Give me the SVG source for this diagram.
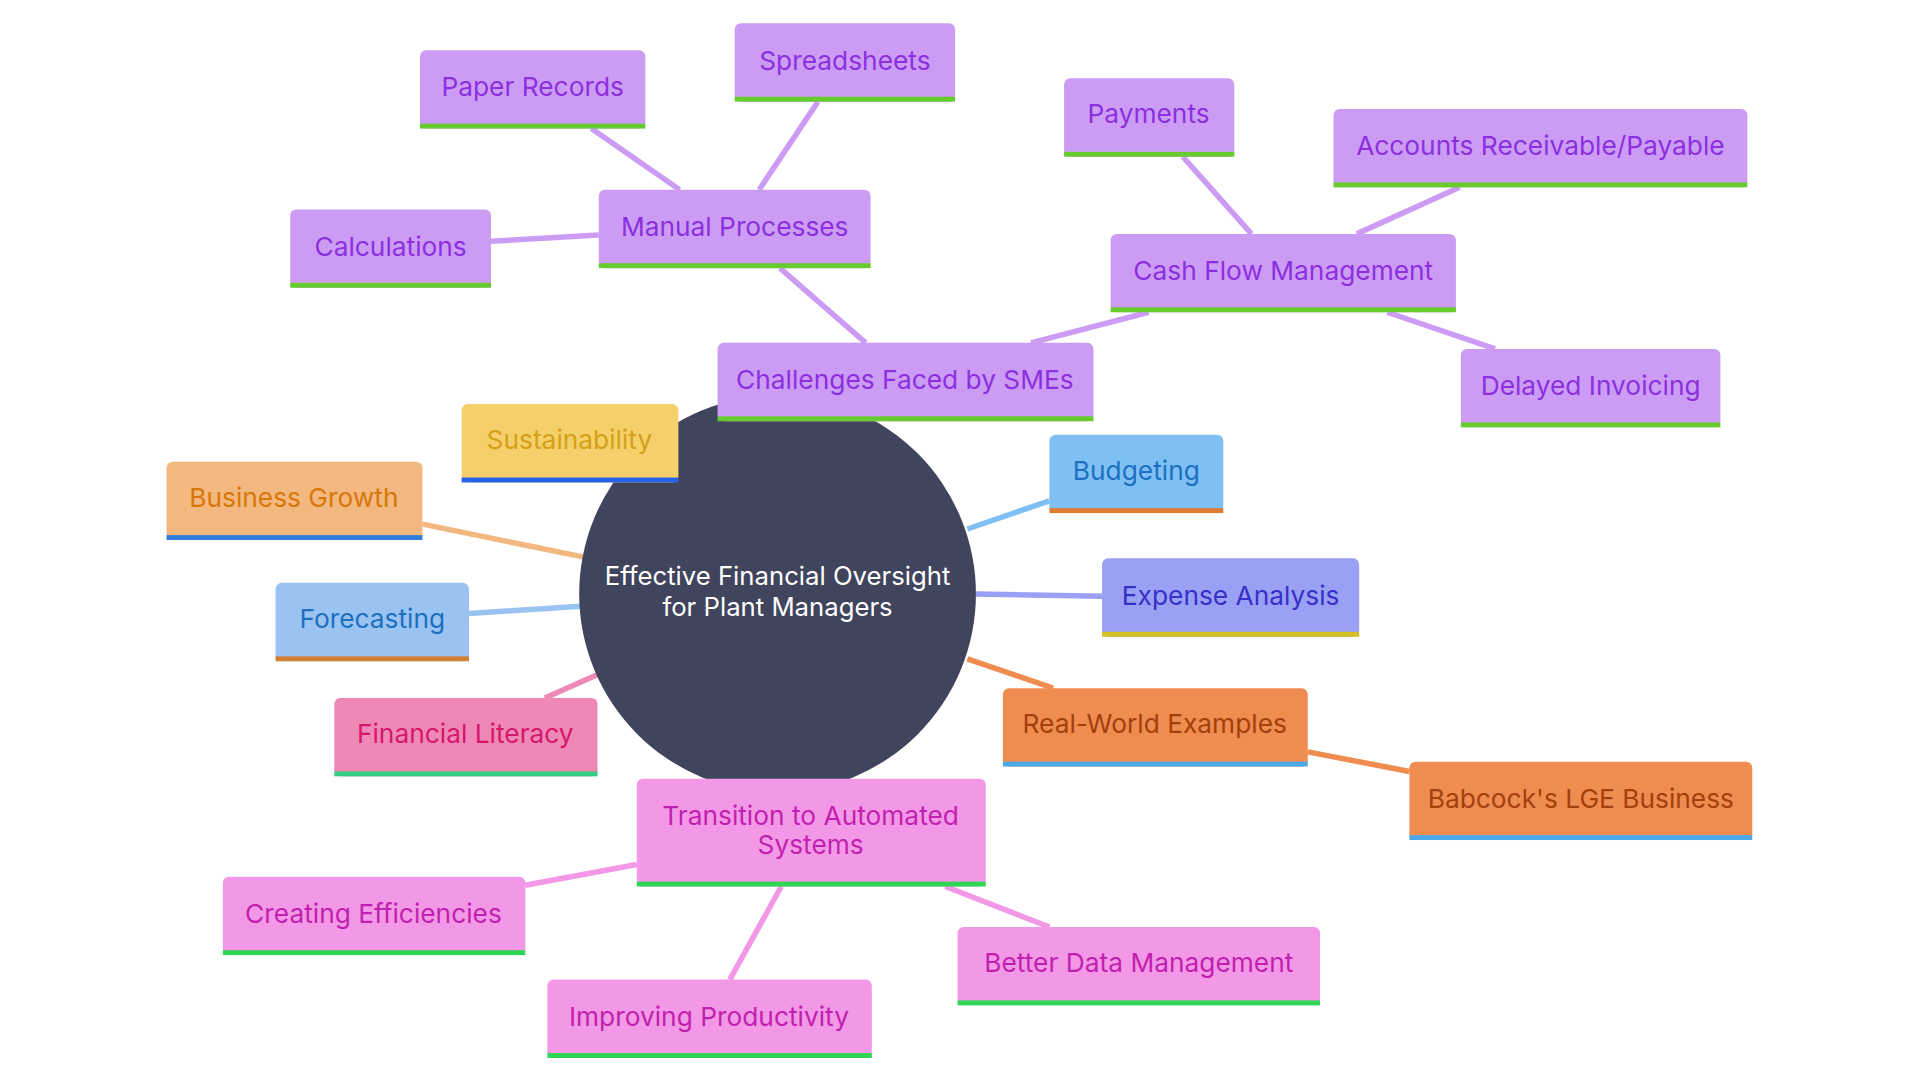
<svg xmlns="http://www.w3.org/2000/svg" width="1920" height="1080" viewBox="0 0 1920 1080">
<style>
text{font-family:Inter,"Open Sans","Liberation Sans",sans-serif;font-size:21.5px;text-anchor:middle;dominant-baseline:central}
.e{stroke-width:4.5;fill:none}
.pu rect.b{fill:#cc9cf4}.pu text{fill:#8c2fe0}.pu rect.s{fill:#66cc2e}
.pk rect.b{fill:#f298e6}.pk text{fill:#c21fb0}.pk rect.s{fill:#2fd655}
.or rect.b{fill:#ef8c50}.or text{fill:#a3400c}.or rect.s{fill:#4aaae8}
</style>
<rect width="1920" height="1080" fill="#fff"/>
<g transform="scale(1.2245)">
<g id="connectors">
<g stroke="#cc9cf4" class="e">
<line x1="483" y1="105" x2="555" y2="155"/><line x1="668" y1="83" x2="620" y2="155"/>
<line x1="401" y1="197" x2="489" y2="192"/><line x1="637" y1="219" x2="707" y2="280"/>
<line x1="966" y1="128" x2="1022" y2="191"/><line x1="1192" y1="153" x2="1108" y2="191"/>
<line x1="938" y1="255" x2="842" y2="280"/><line x1="1133" y1="255" x2="1221" y2="285"/>
</g>
<line class="e" stroke="#f2b880" x1="345" y1="428" x2="477" y2="455"/>
<line class="e" stroke="#7ec0f4" x1="857" y1="409" x2="790" y2="432"/>
<line class="e" stroke="#9aa0f4" x1="900" y1="487" x2="797" y2="485"/>
<line class="e" stroke="#9ac3f2" x1="383" y1="501" x2="474" y2="495"/>
<line class="e" stroke="#ee88b6" x1="445" y1="570" x2="490" y2="550"/>
<line class="e" stroke="#ef8c50" x1="790" y1="538" x2="860" y2="562"/>
<line class="e" stroke="#ef8c50" x1="1068" y1="614" x2="1151" y2="630"/>
<g stroke="#f298e6" class="e">
<line x1="520" y1="706" x2="429" y2="723"/><line x1="638" y1="724" x2="596" y2="800"/>
<line x1="772" y1="724" x2="857" y2="757"/>
</g>
</g>
<g id="center"><circle cx="635" cy="485" r="162" fill="#40445c"/>
<text x="635" y="470" fill="#fff" style="font-size:21px">Effective Financial Oversight</text>
<text x="635" y="495" fill="#fff" style="font-size:21px">for Plant Managers</text></g>
<g id="paper" class="pu"><rect class="b" x="343" y="41" width="184" height="64" rx="5"/><rect class="s" x="343" y="101" width="184" height="4"/><text x="435" y="71">Paper Records</text></g>
<g id="spread" class="pu"><rect class="b" x="600" y="19" width="180" height="64" rx="5"/><rect class="s" x="600" y="79" width="180" height="4"/><text x="690" y="49">Spreadsheets</text></g>
<g id="calc" class="pu"><rect class="b" x="237" y="171" width="164" height="64" rx="5"/><rect class="s" x="237" y="231" width="164" height="4"/><text x="319" y="201">Calculations</text></g>
<g id="manual" class="pu"><rect class="b" x="489" y="155" width="222" height="64" rx="5"/><rect class="s" x="489" y="215" width="222" height="4"/><text x="600" y="185">Manual Processes</text></g>
<g id="payments" class="pu"><rect class="b" x="869" y="64" width="139" height="64" rx="5"/><rect class="s" x="869" y="124" width="139" height="4"/><text x="938" y="93">Payments</text></g>
<g id="ar" class="pu"><rect class="b" x="1089" y="89" width="338" height="64" rx="5"/><rect class="s" x="1089" y="149" width="338" height="4"/><text x="1258" y="119">Accounts Receivable/Payable</text></g>
<g id="cash" class="pu"><rect class="b" x="907" y="191" width="282" height="64" rx="5"/><rect class="s" x="907" y="251" width="282" height="4"/><text x="1048" y="221">Cash Flow Management</text></g>
<g id="delayed" class="pu"><rect class="b" x="1193" y="285" width="212" height="64" rx="5"/><rect class="s" x="1193" y="345" width="212" height="4"/><text x="1299" y="315">Delayed Invoicing</text></g>
<g id="challenges" class="pu"><rect class="b" x="586" y="280" width="307" height="64" rx="5"/><rect class="s" x="586" y="340" width="307" height="4"/><text x="739" y="310">Challenges Faced by SMEs</text></g>
<g id="sust"><rect x="377" y="330" width="177" height="64" rx="5" fill="#f4cf6a"/><rect x="377" y="390" width="177" height="4" fill="#2563eb"/><text x="465" y="359" fill="#d4a017">Sustainability</text></g>
<g id="growth"><rect x="136" y="377" width="209" height="64" rx="5" fill="#f2b880"/><rect x="136" y="437" width="209" height="4" fill="#2f7fd9"/><text x="240" y="406" fill="#d97706">Business Growth</text></g>
<g id="budget"><rect x="857" y="355" width="142" height="64" rx="5" fill="#7ec0f4"/><rect x="857" y="415" width="142" height="4" fill="#e07b30"/><text x="928" y="384" fill="#1d6fc0">Budgeting</text></g>
<g id="expense"><rect x="900" y="456" width="210" height="64" rx="5" fill="#9aa0f4"/><rect x="900" y="516" width="210" height="4" fill="#d4c020"/><text x="1005" y="486" fill="#3730c8">Expense Analysis</text></g>
<g id="forecast"><rect x="225" y="476" width="158" height="64" rx="5" fill="#9ac3f2"/><rect x="225" y="536" width="158" height="4" fill="#d07f30"/><text x="304" y="505" fill="#1d6fc0">Forecasting</text></g>
<g id="literacy"><rect x="273" y="570" width="215" height="64" rx="5" fill="#ee88b6"/><rect x="273" y="630" width="215" height="4" fill="#33cc80"/><text x="380" y="599" fill="#d6176a">Financial Literacy</text></g>
<g id="realworld" class="or"><rect class="b" x="819" y="562" width="249" height="64" rx="5"/><rect class="s" x="819" y="622" width="249" height="4"/><text x="943" y="591">Real-World Examples</text></g>
<g id="babcock" class="or"><rect class="b" x="1151" y="622" width="280" height="64" rx="5"/><rect class="s" x="1151" y="682" width="280" height="4"/><text x="1291" y="652">Babcock's LGE Business</text></g>
<g id="transition" class="pk"><rect class="b" x="520" y="636" width="285" height="88" rx="5"/><rect class="s" x="520" y="720" width="285" height="4"/><text x="662" y="666">Transition to Automated</text><text x="662" y="690">Systems</text></g>
<g id="creating" class="pk"><rect class="b" x="182" y="716" width="247" height="64" rx="5"/><rect class="s" x="182" y="776" width="247" height="4"/><text x="305" y="746">Creating Efficiencies</text></g>
<g id="improving" class="pk"><rect class="b" x="447" y="800" width="265" height="64" rx="5"/><rect class="s" x="447" y="860" width="265" height="4"/><text x="579" y="830">Improving Productivity</text></g>
<g id="better" class="pk"><rect class="b" x="782" y="757" width="296" height="64" rx="5"/><rect class="s" x="782" y="817" width="296" height="4"/><text x="930" y="786">Better Data Management</text></g>
</g>
</svg>
